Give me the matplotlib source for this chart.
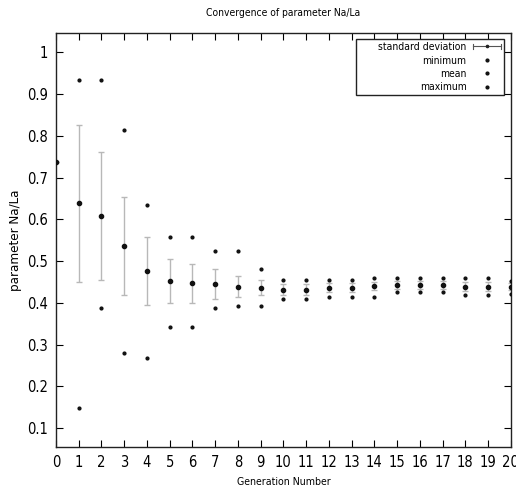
import matplotlib
matplotlib.use("Agg")
import matplotlib.pyplot as plt
from matplotlib.lines import Line2D
from matplotlib.patches import Rectangle
from matplotlib.legend_handler import HandlerBase

plt.rcParams['font.family'] = ['DejaVu Sans Condensed', 'Liberation Sans Narrow', 'DejaVu Sans']
plt.rcParams['font.stretch'] = 'condensed'

generations = list(range(0, 21))
mean_vals = [0.737, 0.638, 0.608, 0.536, 0.476, 0.453, 0.447, 0.445, 0.439, 0.436,
             0.432, 0.432, 0.436, 0.436, 0.441, 0.443, 0.443, 0.443, 0.439, 0.439, 0.439]
std_vals = [0.0, 0.187, 0.153, 0.118, 0.081, 0.053, 0.047, 0.036, 0.026, 0.018,
            0.013, 0.013, 0.011, 0.011, 0.010, 0.009, 0.009, 0.009, 0.010, 0.010, 0.008]
min_vals = [0.737, 0.148, 0.388, 0.280, 0.269, 0.343, 0.343, 0.388, 0.393, 0.393,
            0.409, 0.409, 0.415, 0.415, 0.415, 0.425, 0.425, 0.425, 0.419, 0.419, 0.421]
max_vals = [0.737, 0.933, 0.933, 0.814, 0.634, 0.558, 0.558, 0.523, 0.523, 0.480,
            0.455, 0.455, 0.455, 0.455, 0.460, 0.460, 0.460, 0.460, 0.460, 0.460, 0.453]
y_ticks = [0.1, 0.2, 0.3, 0.4, 0.5, 0.6, 0.7, 0.8, 0.9, 1.0]
y_tick_labels = ['0.1', '0.2', '0.3', '0.4', '0.5', '0.6', '0.7', '0.8', '0.9', '1']
legend_labels = ['standard deviation', 'minimum', 'mean', 'maximum']

ERR_COLOR = '#b8b8b8'


class HorizontalErrorHandler(HandlerBase):
    """Legend sample: horizontal bar with end caps and a centre tick."""
    def create_artists(self, legend, orig_handle, xdescent, ydescent,
                       width, height, fontsize, trans):
        y = height / 2.0 - ydescent
        x0, x1 = -xdescent, width - xdescent
        cap = height * 0.3
        artists = [
            Line2D([x0, x1], [y, y], color='#555555', lw=0.8),
            Line2D([x0, x0], [y - cap, y + cap], color='#555555', lw=0.8),
            Line2D([x1, x1], [y - cap, y + cap], color='#555555', lw=0.8),
            Line2D([(x0 + x1) / 2], [y], marker='o', ms=1.6, color='#222222', lw=0),
        ]
        for a in artists:
            a.set_transform(trans)
        return artists


fig = plt.figure(figsize=(5.16, 4.91), dpi=100)
ax = fig.add_axes([0.1085, 0.0896, 0.8815, 0.8432])

ax.errorbar(generations, mean_vals, yerr=std_vals, fmt='none', ecolor=ERR_COLOR,
            elinewidth=1.0, capsize=2.3, capthick=1.0, zorder=2)
ax.plot(generations, min_vals, ls='none', marker='o', ms=2.0, color='#111111', zorder=3)
ax.plot(generations, mean_vals, ls='none', marker='o', ms=3.0, color='#111111', zorder=3)
ax.plot(generations, max_vals, ls='none', marker='o', ms=2.0, color='#111111', zorder=3)

ax.set_xlim(0, 20)
ax.set_ylim(0.055, 1.046)
ax.set_xticks(generations)
ax.set_yticks(y_ticks)
ax.set_yticklabels(y_tick_labels)
ax.tick_params(direction='in', length=5, width=0.8, labelsize=10.5,
               top=True, right=True, pad=6)
for s in ax.spines.values():
    s.set_linewidth(1.0)
    s.set_color('#222222')

ax.set_title('Convergence of parameter Na/La', fontsize=7.4, pad=12.5)
ax.set_xlabel('Generation Number', fontsize=7.6, labelpad=5)
ax.set_ylabel('parameter Na/La', fontsize=9.5, labelpad=3)

# key box, drawn wider than its entries
ax.add_patch(Rectangle((0.659, 0.850), 0.9846 - 0.659, 0.9855 - 0.850,
                       transform=ax.transAxes, facecolor='white',
                       edgecolor='#222222', lw=1.0, zorder=4))

h_std = Line2D([], [], color='#444444')
h_min = Line2D([], [], ls='none', marker='o', ms=2.0, color='#111111')
h_mean = Line2D([], [], ls='none', marker='o', ms=2.0, color='#111111')
h_max = Line2D([], [], ls='none', marker='o', ms=2.0, color='#111111')
leg = ax.legend([h_std, h_min, h_mean, h_max], legend_labels,
                handler_map={h_std: HorizontalErrorHandler()},
                loc='upper right', bbox_to_anchor=(0.978, 0.978), markerfirst=False,
                fontsize=7.5, frameon=False, borderpad=0.0,
                labelspacing=0.33, handlelength=2.7, handletextpad=0.6,
                borderaxespad=0.0)
leg.set_zorder(5)
for t in leg.get_texts():
    t.set_ha('right')

fig.savefig('out.png', dpi=100)
